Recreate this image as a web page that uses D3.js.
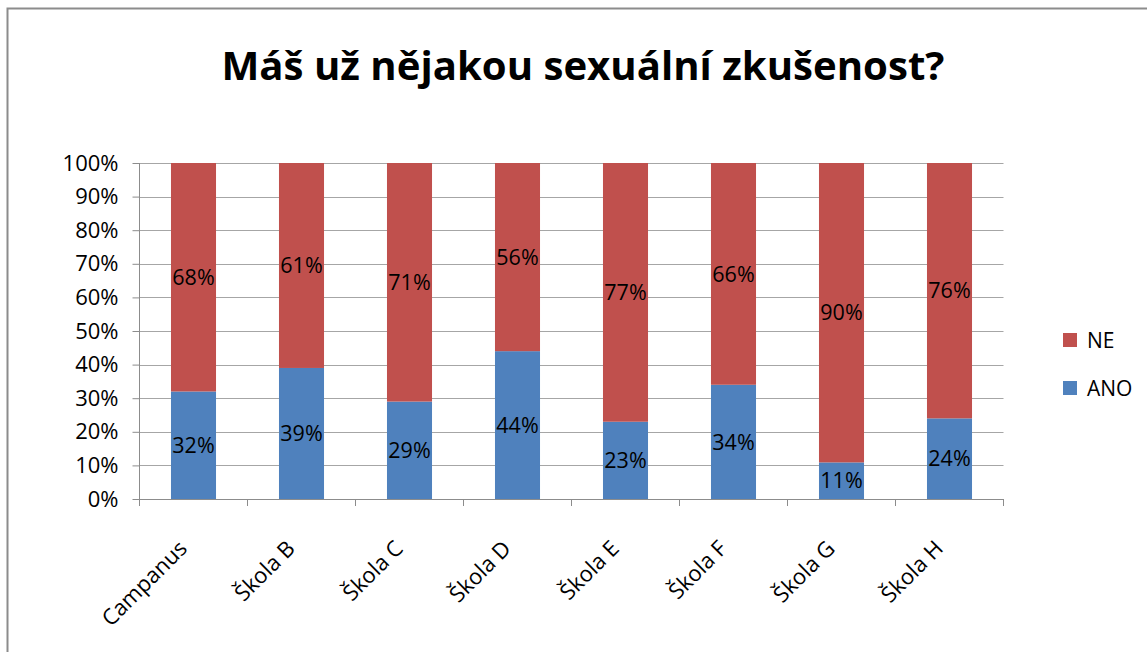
<!DOCTYPE html>
<html><head><meta charset="utf-8">
<script src="https://cdn.jsdelivr.net/npm/d3@7"></script>
<style>body{margin:0;background:#fff}svg{display:block}text{font-family:"Open Sans",sans-serif}</style>
</head><body>
<svg id="c" width="1147" height="652"></svg>
<script>
const title = "Máš už nějakou sexuální zkušenost?";
const categories = ["Campanus","Škola B","Škola C","Škola D","Škola E","Škola F","Škola G","Škola H"];
const ano = [32,39,29,44,23,34,11,24];
const ne  = [68,61,71,56,77,66,90,76];
const seriesNames = ["ANO","NE"];
const seriesColors = ["#4F81BD","#C0504D"];
const yTicks = [0,0.1,0.2,0.3,0.4,0.5,0.6,0.7,0.8,0.9,1];

const svg = d3.select("#c");
svg.append("rect").attr("x",7.5).attr("y",8.5).attr("width",1160).attr("height",660)
  .attr("fill","#fff").attr("stroke","#8c8c8c").attr("stroke-width",2);

const m = {l:139.5,r:1003.5,t:163,b:499};
const x = d3.scaleBand().domain(categories).range([m.l,m.r]).paddingInner(0.583).paddingOuter(0.2915);
const y = d3.scaleLinear().domain([0,1]).range([m.b,m.t]);

// gridlines
svg.append("g").selectAll("line").data(yTicks.slice(1)).join("line")
  .attr("x1",m.l).attr("x2",m.r).attr("y1",d=>Math.round(y(d))+0.5).attr("y2",d=>Math.round(y(d))+0.5)
  .attr("stroke","#a6a6a6").attr("stroke-width",1);

const rows = categories.map((c,i)=>({cat:c, ANO:ano[i], NE:ne[i]}));
const stack = d3.stack().keys(seriesNames).offset(d3.stackOffsetExpand)(rows);

const g = svg.append("g");
stack.forEach((s,si)=>{
  g.append("g").attr("fill",seriesColors[si]).selectAll("rect").data(s).join("rect")
    .attr("x",d=>x(d.data.cat)).attr("width",x.bandwidth())
    .attr("y",d=>y(d[1])).attr("height",d=>y(d[0])-y(d[1]));
});
stack.forEach((s,si)=>{
  g.append("g").selectAll("text").data(s).join("text")
    .attr("x",d=>x(d.data.cat)+x.bandwidth()/2)
    .attr("y",d=>(y(d[0])+y(d[1]))/2)
    .attr("dy","0.36em").attr("text-anchor","middle")
    .attr("font-size",21.5).attr("fill","#000")
    .text(d=>d.data[seriesNames[si]]+"%");
});

// y axis
const ya = d3.axisLeft(y).tickValues(yTicks).tickFormat(d3.format(".0%")).tickSize(7).tickPadding(14);
const yg = svg.append("g").attr("transform",`translate(${m.l},0)`).call(ya);
yg.select(".domain").attr("stroke","#8c8c8c").attr("d",`M0,${m.t}V${m.b+7}`);
yg.selectAll(".tick line").attr("stroke","#8c8c8c");
yg.selectAll(".tick text").attr("font-size",22).attr("fill","#000").attr("font-family","Open Sans");

// x axis
const xa = d3.axisBottom(x).tickSize(0).tickFormat("");
const xg = svg.append("g").attr("transform",`translate(0,${m.b})`).call(xa);
xg.select(".domain").attr("stroke","#8c8c8c").attr("d",`M${m.l},0.5H${m.r}`);
const step = x.step();
xg.append("g").selectAll("line").data(d3.range(categories.length+1)).join("line")
  .attr("x1",i=>m.l+i*step).attr("x2",i=>m.l+i*step).attr("y1",0).attr("y2",7)
  .attr("stroke","#8c8c8c");
svg.append("g").selectAll("text").data(categories).join("text")
  .attr("transform",d=>`translate(${x(d)+x.bandwidth()/2-16},${m.b+40}) rotate(-45)`)
  .attr("text-anchor","end").attr("dy","0.7em").attr("font-size",22).attr("fill","#000")
  .text(d=>d);

// title
svg.append("text").attr("x",583).attr("y",80).attr("text-anchor","middle")
  .attr("font-size",40).attr("font-weight","bold").attr("fill","#000")
  .attr("textLength",723).attr("lengthAdjust","spacingAndGlyphs").text(title);

// legend
const leg = svg.append("g");
const legItems = [{n:"NE",c:seriesColors[1],y:340},{n:"ANO",c:seriesColors[0],y:388}];
legItems.forEach(it=>{
  leg.append("rect").attr("x",1063).attr("y",it.y-7).attr("width",14).attr("height",14).attr("fill",it.c);
  leg.append("text").attr("x",1087).attr("y",it.y).attr("dy","0.36em").attr("font-size",21).attr("fill","#000").text(it.n);
});
</script>
</body></html>
